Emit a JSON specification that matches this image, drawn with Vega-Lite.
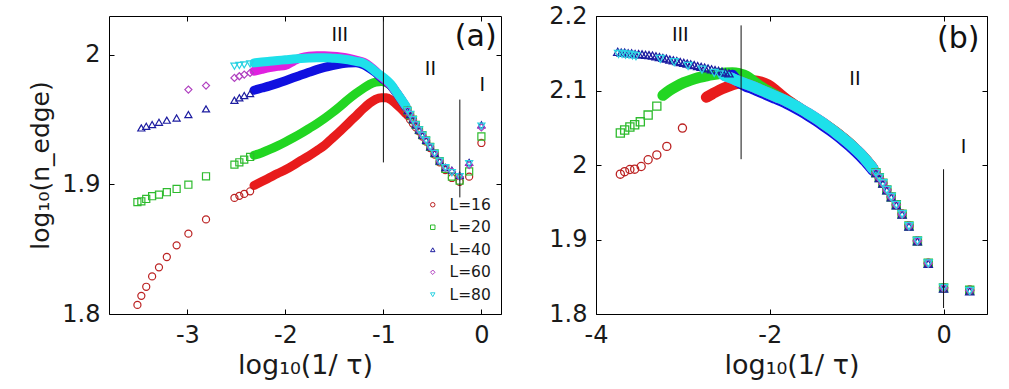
{
"$schema": "https://vega.github.io/schema/vega-lite/v6.json",
"padding": {"left": 28, "top": 3, "right": 5, "bottom": 2},
"spacing": 46,
"config": {
 "font": "DejaVu Sans",
 "view": {"stroke": "#000", "strokeWidth": 1},
 "axis": {"grid": false, "domain": false, "tickColor": "#000", "tickSize": -5, "labelFontSize": 24, "labelColor": "#1a1a1a", "labelFont": "DejaVu Sans", "titleFont": "DejaVu Sans", "titleFontSize": 27, "titleFontWeight": "normal", "titleColor": "#1a1a1a", "labelFlush": false, "labelOverlap": false, "labelPadding": 14, "titlePadding": 5}
},
"datasets": {
"a": [
{"L":16,"x":-3.51,"y":1.807},{"L":16,"x":-3.47,"y":1.814},{"L":16,"x":-3.42,"y":1.821},{"L":16,"x":-3.36,"y":1.829},{"L":16,"x":-3.29,"y":1.836},{"L":16,"x":-3.21,"y":1.844},{"L":16,"x":-3.11,"y":1.853},{"L":16,"x":-2.99,"y":1.862},{"L":16,"x":-2.81,"y":1.873},{"L":16,"x":-2.52,"y":1.8896},{"L":16,"x":-2.47,"y":1.8912},{"L":16,"x":-2.42,"y":1.8927},{"L":16,"x":-2.36,"y":1.8947},
{"L":16,"x":-2.32,"y":1.8992},{"L":16,"x":-2.24,"y":1.9022},{"L":16,"x":-2.16,"y":1.9053},{"L":16,"x":-2.08,"y":1.9084},{"L":16,"x":-2.0,"y":1.9113},{"L":16,"x":-1.92,"y":1.9148},{"L":16,"x":-1.84,"y":1.9185},{"L":16,"x":-1.76,"y":1.922},{"L":16,"x":-1.68,"y":1.926},{"L":16,"x":-1.6,"y":1.9302},{"L":16,"x":-1.52,"y":1.9358},{"L":16,"x":-1.44,"y":1.9412},{"L":16,"x":-1.36,"y":1.9471},{"L":16,"x":-1.28,"y":1.9529},{"L":16,"x":-1.2,"y":1.9588},{"L":16,"x":-1.14,"y":1.9627},{"L":16,"x":-1.08,"y":1.9657},{"L":16,"x":-1.02,"y":1.967},{"L":16,"x":-0.97,"y":1.9669},{"L":16,"x":-0.92,"y":1.9652},{"L":16,"x":-0.87,"y":1.962},{"L":16,"x":-0.82,"y":1.9585},{"L":16,"x":-0.77,"y":1.9545},
{"L":16,"x":-0.753,"y":1.953},{"L":16,"x":-0.727,"y":1.95},{"L":16,"x":-0.699,"y":1.947},{"L":16,"x":-0.669,"y":1.944},{"L":16,"x":-0.637,"y":1.941},{"L":16,"x":-0.602,"y":1.937},{"L":16,"x":-0.564,"y":1.933},{"L":16,"x":-0.523,"y":1.928},{"L":16,"x":-0.477,"y":1.923},{"L":16,"x":-0.426,"y":1.917},{"L":16,"x":-0.368,"y":1.911},{"L":16,"x":-0.301,"y":1.905},{"L":16,"x":-0.222,"y":1.902},{"L":16,"x":-0.125,"y":1.906},{"L":16,"x":0,"y":1.932},
{"L":20,"x":-3.51,"y":1.8863},{"L":20,"x":-3.47,"y":1.887},{"L":20,"x":-3.42,"y":1.8888},{"L":20,"x":-3.36,"y":1.8909},{"L":20,"x":-3.29,"y":1.8921},{"L":20,"x":-3.21,"y":1.894},{"L":20,"x":-3.11,"y":1.8965},{"L":20,"x":-2.99,"y":1.8998},{"L":20,"x":-2.81,"y":1.9063},{"L":20,"x":-2.52,"y":1.9153},{"L":20,"x":-2.47,"y":1.9171},{"L":20,"x":-2.42,"y":1.9191},{"L":20,"x":-2.36,"y":1.9212},
{"L":20,"x":-2.32,"y":1.9225},{"L":20,"x":-2.24,"y":1.9245},{"L":20,"x":-2.16,"y":1.927},{"L":20,"x":-2.08,"y":1.9298},{"L":20,"x":-2.0,"y":1.9328},{"L":20,"x":-1.92,"y":1.936},{"L":20,"x":-1.84,"y":1.9394},{"L":20,"x":-1.76,"y":1.9431},{"L":20,"x":-1.68,"y":1.9469},{"L":20,"x":-1.6,"y":1.951},{"L":20,"x":-1.52,"y":1.9555},{"L":20,"x":-1.44,"y":1.9604},{"L":20,"x":-1.36,"y":1.9655},{"L":20,"x":-1.28,"y":1.9702},{"L":20,"x":-1.2,"y":1.9745},{"L":20,"x":-1.14,"y":1.9772},{"L":20,"x":-1.08,"y":1.9789},{"L":20,"x":-1.02,"y":1.9795},{"L":20,"x":-0.97,"y":1.9785},{"L":20,"x":-0.92,"y":1.976},{"L":20,"x":-0.87,"y":1.971},{"L":20,"x":-0.82,"y":1.9655},{"L":20,"x":-0.77,"y":1.9595},
{"L":20,"x":-0.753,"y":1.957},{"L":20,"x":-0.727,"y":1.9535},{"L":20,"x":-0.699,"y":1.95},{"L":20,"x":-0.669,"y":1.946},{"L":20,"x":-0.637,"y":1.942},{"L":20,"x":-0.602,"y":1.938},{"L":20,"x":-0.564,"y":1.934},{"L":20,"x":-0.523,"y":1.929},{"L":20,"x":-0.477,"y":1.924},{"L":20,"x":-0.426,"y":1.918},{"L":20,"x":-0.368,"y":1.912},{"L":20,"x":-0.301,"y":1.906},{"L":20,"x":-0.222,"y":1.903},{"L":20,"x":-0.125,"y":1.91},{"L":20,"x":0,"y":1.937},
{"L":40,"x":-3.47,"y":1.9436},{"L":40,"x":-3.42,"y":1.9449},{"L":40,"x":-3.36,"y":1.9462},{"L":40,"x":-3.29,"y":1.948},{"L":40,"x":-3.21,"y":1.9496},{"L":40,"x":-3.11,"y":1.9513},{"L":40,"x":-2.99,"y":1.9539},{"L":40,"x":-2.81,"y":1.9583},{"L":40,"x":-2.52,"y":1.965},{"L":40,"x":-2.47,"y":1.9668},{"L":40,"x":-2.42,"y":1.9686},{"L":40,"x":-2.36,"y":1.9701},
{"L":40,"x":-2.32,"y":1.9727},{"L":40,"x":-2.24,"y":1.9744},{"L":40,"x":-2.16,"y":1.9761},{"L":40,"x":-2.08,"y":1.978},{"L":40,"x":-2.0,"y":1.9801},{"L":40,"x":-1.92,"y":1.9823},{"L":40,"x":-1.84,"y":1.9844},{"L":40,"x":-1.76,"y":1.9865},{"L":40,"x":-1.68,"y":1.9886},{"L":40,"x":-1.6,"y":1.9904},{"L":40,"x":-1.52,"y":1.9918},{"L":40,"x":-1.44,"y":1.9929},{"L":40,"x":-1.36,"y":1.9937},{"L":40,"x":-1.28,"y":1.9939},{"L":40,"x":-1.2,"y":1.9922},{"L":40,"x":-1.14,"y":1.9896},{"L":40,"x":-1.08,"y":1.9864},{"L":40,"x":-1.02,"y":1.9822},{"L":40,"x":-0.97,"y":1.9795},{"L":40,"x":-0.92,"y":1.976},{"L":40,"x":-0.87,"y":1.971},{"L":40,"x":-0.82,"y":1.9655},{"L":40,"x":-0.77,"y":1.9595},
{"L":40,"x":-0.753,"y":1.957},{"L":40,"x":-0.727,"y":1.954},{"L":40,"x":-0.699,"y":1.95},{"L":40,"x":-0.669,"y":1.946},{"L":40,"x":-0.637,"y":1.942},{"L":40,"x":-0.602,"y":1.938},{"L":40,"x":-0.564,"y":1.934},{"L":40,"x":-0.523,"y":1.929},{"L":40,"x":-0.477,"y":1.924},{"L":40,"x":-0.426,"y":1.918},{"L":40,"x":-0.368,"y":1.913},{"L":40,"x":-0.301,"y":1.911},{"L":40,"x":-0.222,"y":1.907},{"L":40,"x":-0.125,"y":1.917},{"L":40,"x":0,"y":1.946},
{"L":60,"x":-2.99,"y":1.9732},{"L":60,"x":-2.81,"y":1.9763},{"L":60,"x":-2.52,"y":1.9822},{"L":60,"x":-2.47,"y":1.9835},{"L":60,"x":-2.42,"y":1.9848},{"L":60,"x":-2.36,"y":1.9861},
{"L":60,"x":-2.32,"y":1.9874},{"L":60,"x":-2.24,"y":1.9888},{"L":60,"x":-2.16,"y":1.9901},{"L":60,"x":-2.08,"y":1.9911},{"L":60,"x":-2.0,"y":1.9919},{"L":60,"x":-1.92,"y":1.995},{"L":60,"x":-1.84,"y":1.9978},{"L":60,"x":-1.76,"y":1.999},{"L":60,"x":-1.68,"y":1.9993},{"L":60,"x":-1.6,"y":1.9993},{"L":60,"x":-1.52,"y":1.999},{"L":60,"x":-1.44,"y":1.9984},{"L":60,"x":-1.36,"y":1.9974},{"L":60,"x":-1.28,"y":1.996},{"L":60,"x":-1.2,"y":1.9942},{"L":60,"x":-1.14,"y":1.9914},{"L":60,"x":-1.08,"y":1.9875},{"L":60,"x":-1.02,"y":1.983},{"L":60,"x":-0.97,"y":1.98},{"L":60,"x":-0.92,"y":1.9765},{"L":60,"x":-0.87,"y":1.9715},{"L":60,"x":-0.82,"y":1.966},{"L":60,"x":-0.77,"y":1.96},
{"L":60,"x":-0.753,"y":1.957},{"L":60,"x":-0.727,"y":1.954},{"L":60,"x":-0.699,"y":1.95},{"L":60,"x":-0.669,"y":1.946},{"L":60,"x":-0.637,"y":1.942},{"L":60,"x":-0.602,"y":1.938},{"L":60,"x":-0.564,"y":1.934},{"L":60,"x":-0.523,"y":1.929},{"L":60,"x":-0.477,"y":1.924},{"L":60,"x":-0.426,"y":1.918},{"L":60,"x":-0.368,"y":1.913},{"L":60,"x":-0.301,"y":1.91},{"L":60,"x":-0.222,"y":1.906},{"L":60,"x":-0.125,"y":1.915},{"L":60,"x":0,"y":1.944},
{"L":80,"x":-2.52,"y":1.9913},{"L":80,"x":-2.47,"y":1.9918},{"L":80,"x":-2.42,"y":1.9923},{"L":80,"x":-2.36,"y":1.993},
{"L":80,"x":-2.32,"y":1.9938},{"L":80,"x":-2.24,"y":1.9945},{"L":80,"x":-2.16,"y":1.9951},{"L":80,"x":-2.08,"y":1.9957},{"L":80,"x":-2.0,"y":1.9962},{"L":80,"x":-1.92,"y":1.9968},{"L":80,"x":-1.84,"y":1.9972},{"L":80,"x":-1.76,"y":1.9975},{"L":80,"x":-1.68,"y":1.9977},{"L":80,"x":-1.6,"y":1.9977},{"L":80,"x":-1.52,"y":1.9974},{"L":80,"x":-1.44,"y":1.997},{"L":80,"x":-1.36,"y":1.9962},{"L":80,"x":-1.28,"y":1.995},{"L":80,"x":-1.2,"y":1.9935},{"L":80,"x":-1.14,"y":1.9908},{"L":80,"x":-1.08,"y":1.987},{"L":80,"x":-1.02,"y":1.9838},{"L":80,"x":-0.97,"y":1.9808},{"L":80,"x":-0.92,"y":1.977},{"L":80,"x":-0.87,"y":1.9715},{"L":80,"x":-0.82,"y":1.966},{"L":80,"x":-0.77,"y":1.9605},
{"L":80,"x":-0.753,"y":1.957},{"L":80,"x":-0.727,"y":1.954},{"L":80,"x":-0.699,"y":1.95},{"L":80,"x":-0.669,"y":1.946},{"L":80,"x":-0.637,"y":1.942},{"L":80,"x":-0.602,"y":1.938},{"L":80,"x":-0.564,"y":1.934},{"L":80,"x":-0.523,"y":1.929},{"L":80,"x":-0.477,"y":1.924},{"L":80,"x":-0.426,"y":1.918},{"L":80,"x":-0.368,"y":1.913},{"L":80,"x":-0.301,"y":1.909},{"L":80,"x":-0.222,"y":1.906},{"L":80,"x":-0.125,"y":1.916},{"L":80,"x":0,"y":1.945}
],
"b": [
{"L":16,"x":-3.72,"y":1.9877},{"L":16,"x":-3.67,"y":1.991},{"L":16,"x":-3.61,"y":1.994},{"L":16,"x":-3.555,"y":1.9944},{"L":16,"x":-3.48,"y":1.998},{"L":16,"x":-3.4,"y":2.007},{"L":16,"x":-3.3,"y":2.0135},{"L":16,"x":-3.185,"y":2.025},{"L":16,"x":-3.005,"y":2.0496},
{"L":16,"x":-2.73,"y":2.091},{"L":16,"x":-2.66,"y":2.0955},{"L":16,"x":-2.58,"y":2.1005},{"L":16,"x":-2.5,"y":2.1045},{"L":16,"x":-2.42,"y":2.108},{"L":16,"x":-2.34,"y":2.1105},{"L":16,"x":-2.26,"y":2.1125},{"L":16,"x":-2.18,"y":2.1132},{"L":16,"x":-2.1,"y":2.1115},{"L":16,"x":-2.02,"y":2.1075},{"L":16,"x":-1.94,"y":2.101},{"L":16,"x":-1.86,"y":2.093},{"L":16,"x":-1.8,"y":2.0875},{"L":16,"x":-1.72,"y":2.081},{"L":16,"x":-1.64,"y":2.0745},{"L":16,"x":-1.56,"y":2.069},{"L":16,"x":-1.48,"y":2.0632},{"L":16,"x":-1.4,"y":2.0572},{"L":16,"x":-1.32,"y":2.0508},{"L":16,"x":-1.24,"y":2.044},{"L":16,"x":-1.16,"y":2.0366},{"L":16,"x":-1.08,"y":2.0288},{"L":16,"x":-1.0,"y":2.02},{"L":16,"x":-0.93,"y":2.0118},
{"L":16,"x":-0.903,"y":2.0082},{"L":16,"x":-0.875,"y":2.0045},{"L":16,"x":-0.845,"y":2.0003},{"L":16,"x":-0.813,"y":1.9955},{"L":16,"x":-0.778,"y":1.9898},{"L":16,"x":-0.74,"y":1.9833},{"L":16,"x":-0.699,"y":1.9757},{"L":16,"x":-0.653,"y":1.9667},{"L":16,"x":-0.602,"y":1.9572},{"L":16,"x":-0.544,"y":1.9467},{"L":16,"x":-0.477,"y":1.9342},{"L":16,"x":-0.398,"y":1.9182},{"L":16,"x":-0.301,"y":1.8982},{"L":16,"x":-0.176,"y":1.8682},{"L":16,"x":0,"y":1.8352},{"L":16,"x":0.301,"y":1.8322},
{"L":20,"x":-3.72,"y":2.043},{"L":20,"x":-3.67,"y":2.047},{"L":20,"x":-3.61,"y":2.051},{"L":20,"x":-3.555,"y":2.054},{"L":20,"x":-3.49,"y":2.058},{"L":20,"x":-3.4,"y":2.067},{"L":20,"x":-3.3,"y":2.079},
{"L":20,"x":-3.23,"y":2.0935},{"L":20,"x":-3.15,"y":2.1005},{"L":20,"x":-3.07,"y":2.106},{"L":20,"x":-2.99,"y":2.1105},{"L":20,"x":-2.91,"y":2.114},{"L":20,"x":-2.83,"y":2.117},{"L":20,"x":-2.75,"y":2.119},{"L":20,"x":-2.67,"y":2.121},{"L":20,"x":-2.59,"y":2.1225},{"L":20,"x":-2.51,"y":2.1235},{"L":20,"x":-2.43,"y":2.1237},{"L":20,"x":-2.35,"y":2.1225},{"L":20,"x":-2.27,"y":2.1195},{"L":20,"x":-2.19,"y":2.1125},{"L":20,"x":-2.11,"y":2.1055},{"L":20,"x":-2.03,"y":2.1},{"L":20,"x":-1.95,"y":2.0945},{"L":20,"x":-1.87,"y":2.0895},{"L":20,"x":-1.79,"y":2.085},{"L":20,"x":-1.72,"y":2.0805},{"L":20,"x":-1.64,"y":2.0745},{"L":20,"x":-1.56,"y":2.0688},{"L":20,"x":-1.48,"y":2.063},{"L":20,"x":-1.4,"y":2.057},{"L":20,"x":-1.32,"y":2.0506},{"L":20,"x":-1.24,"y":2.0438},{"L":20,"x":-1.16,"y":2.0364},{"L":20,"x":-1.08,"y":2.0286},{"L":20,"x":-1.0,"y":2.0198},{"L":20,"x":-0.93,"y":2.0117},
{"L":20,"x":-0.903,"y":2.0081},{"L":20,"x":-0.875,"y":2.0043},{"L":20,"x":-0.845,"y":2.0001},{"L":20,"x":-0.813,"y":1.9953},{"L":20,"x":-0.778,"y":1.9896},{"L":20,"x":-0.74,"y":1.9831},{"L":20,"x":-0.699,"y":1.9756},{"L":20,"x":-0.653,"y":1.9666},{"L":20,"x":-0.602,"y":1.9571},{"L":20,"x":-0.544,"y":1.9466},{"L":20,"x":-0.477,"y":1.9341},{"L":20,"x":-0.398,"y":1.9181},{"L":20,"x":-0.301,"y":1.8981},{"L":20,"x":-0.176,"y":1.8681},{"L":20,"x":0,"y":1.8351},{"L":20,"x":0.301,"y":1.8318},
{"L":40,"x":-3.75,"y":2.152},{"L":40,"x":-3.71,"y":2.151},{"L":40,"x":-3.67,"y":2.151},{"L":40,"x":-3.63,"y":2.15},{"L":40,"x":-3.59,"y":2.15},{"L":40,"x":-3.55,"y":2.149},{"L":40,"x":-3.51,"y":2.149},{"L":40,"x":-3.47,"y":2.1485},{"L":40,"x":-3.43,"y":2.148},{"L":40,"x":-3.39,"y":2.1475},{"L":40,"x":-3.35,"y":2.147},{"L":40,"x":-3.31,"y":2.1459},{"L":40,"x":-3.27,"y":2.1448},{"L":40,"x":-3.23,"y":2.1437},{"L":40,"x":-3.19,"y":2.1427},{"L":40,"x":-3.15,"y":2.1416},{"L":40,"x":-3.11,"y":2.1405},{"L":40,"x":-3.07,"y":2.1394},{"L":40,"x":-3.03,"y":2.1383},{"L":40,"x":-2.99,"y":2.1372},{"L":40,"x":-2.95,"y":2.1361},{"L":40,"x":-2.91,"y":2.135},{"L":40,"x":-2.87,"y":2.134},{"L":40,"x":-2.83,"y":2.1329},{"L":40,"x":-2.79,"y":2.1318},{"L":40,"x":-2.75,"y":2.1307},{"L":40,"x":-2.71,"y":2.1296},{"L":40,"x":-2.67,"y":2.1285},{"L":40,"x":-2.63,"y":2.1274},{"L":40,"x":-2.59,"y":2.1263},{"L":40,"x":-2.55,"y":2.1253},{"L":40,"x":-2.51,"y":2.1242},{"L":40,"x":-2.47,"y":2.1231},
{"L":40,"x":-2.43,"y":2.1205},{"L":40,"x":-2.36,"y":2.1115},{"L":40,"x":-2.28,"y":2.106},{"L":40,"x":-2.2,"y":2.1025},{"L":40,"x":-2.12,"y":2.0985},{"L":40,"x":-2.04,"y":2.0945},{"L":40,"x":-1.96,"y":2.0905},{"L":40,"x":-1.88,"y":2.0865},{"L":40,"x":-1.8,"y":2.0822},{"L":40,"x":-1.72,"y":2.0773},{"L":40,"x":-1.64,"y":2.072},{"L":40,"x":-1.56,"y":2.0664},{"L":40,"x":-1.48,"y":2.0605},{"L":40,"x":-1.4,"y":2.0542},{"L":40,"x":-1.32,"y":2.0475},{"L":40,"x":-1.24,"y":2.0406},{"L":40,"x":-1.16,"y":2.0332},{"L":40,"x":-1.08,"y":2.0254},{"L":40,"x":-1.0,"y":2.0167},{"L":40,"x":-0.93,"y":2.0086},
{"L":40,"x":-0.903,"y":2.0052},{"L":40,"x":-0.875,"y":2.0015},{"L":40,"x":-0.845,"y":1.9975},{"L":40,"x":-0.813,"y":1.993},{"L":40,"x":-0.778,"y":1.989},{"L":40,"x":-0.74,"y":1.9825},{"L":40,"x":-0.699,"y":1.975},{"L":40,"x":-0.653,"y":1.966},{"L":40,"x":-0.602,"y":1.9565},{"L":40,"x":-0.544,"y":1.946},{"L":40,"x":-0.477,"y":1.9335},{"L":40,"x":-0.398,"y":1.9175},{"L":40,"x":-0.301,"y":1.8975},{"L":40,"x":-0.176,"y":1.8675},{"L":40,"x":0,"y":1.834},{"L":40,"x":0.301,"y":1.8305},
{"L":60,"x":-2.52,"y":2.12},{"L":60,"x":-2.44,"y":2.1165},{"L":60,"x":-2.36,"y":2.1125},{"L":60,"x":-2.28,"y":2.109},{"L":60,"x":-2.2,"y":2.1055},{"L":60,"x":-2.12,"y":2.1015},{"L":60,"x":-2.04,"y":2.0975},{"L":60,"x":-1.96,"y":2.0935},{"L":60,"x":-1.88,"y":2.0895},{"L":60,"x":-1.8,"y":2.0852},{"L":60,"x":-1.72,"y":2.0803},{"L":60,"x":-1.64,"y":2.075},{"L":60,"x":-1.56,"y":2.0694},{"L":60,"x":-1.48,"y":2.0635},{"L":60,"x":-1.4,"y":2.0572},{"L":60,"x":-1.32,"y":2.0505},{"L":60,"x":-1.24,"y":2.0436},{"L":60,"x":-1.16,"y":2.0362},{"L":60,"x":-1.08,"y":2.0284},{"L":60,"x":-1.0,"y":2.0197},{"L":60,"x":-0.93,"y":2.0116},
{"L":60,"x":-0.903,"y":2.008},{"L":60,"x":-0.875,"y":2.0042},{"L":60,"x":-0.845,"y":2.0},{"L":60,"x":-0.813,"y":1.9952},{"L":60,"x":-0.778,"y":1.9895},{"L":60,"x":-0.74,"y":1.983},{"L":60,"x":-0.699,"y":1.9755},{"L":60,"x":-0.653,"y":1.9665},{"L":60,"x":-0.602,"y":1.957},{"L":60,"x":-0.544,"y":1.9465},{"L":60,"x":-0.477,"y":1.934},{"L":60,"x":-0.398,"y":1.918},{"L":60,"x":-0.301,"y":1.898},{"L":60,"x":-0.176,"y":1.868},{"L":60,"x":0,"y":1.835},{"L":60,"x":0.301,"y":1.8315},
{"L":80,"x":-3.74,"y":2.149},{"L":80,"x":-3.7,"y":2.149},{"L":80,"x":-3.66,"y":2.148},{"L":80,"x":-3.62,"y":2.148},{"L":80,"x":-3.58,"y":2.147},{"L":80,"x":-3.54,"y":2.146},{"L":80,"x":-3.26,"y":2.1425},{"L":80,"x":-3.1,"y":2.138},{"L":80,"x":-2.94,"y":2.133},{"L":80,"x":-2.78,"y":2.128},{"L":80,"x":-2.64,"y":2.1235},{"L":80,"x":-2.58,"y":2.1215},
{"L":80,"x":-2.52,"y":2.12},{"L":80,"x":-2.44,"y":2.1165},{"L":80,"x":-2.36,"y":2.1125},{"L":80,"x":-2.28,"y":2.109},{"L":80,"x":-2.2,"y":2.1055},{"L":80,"x":-2.12,"y":2.1015},{"L":80,"x":-2.04,"y":2.0975},{"L":80,"x":-1.96,"y":2.0935},{"L":80,"x":-1.88,"y":2.0895},{"L":80,"x":-1.8,"y":2.0852},{"L":80,"x":-1.72,"y":2.0803},{"L":80,"x":-1.64,"y":2.075},{"L":80,"x":-1.56,"y":2.0694},{"L":80,"x":-1.48,"y":2.0635},{"L":80,"x":-1.4,"y":2.0572},{"L":80,"x":-1.32,"y":2.0505},{"L":80,"x":-1.24,"y":2.0436},{"L":80,"x":-1.16,"y":2.0362},{"L":80,"x":-1.08,"y":2.0284},{"L":80,"x":-1.0,"y":2.0197},{"L":80,"x":-0.93,"y":2.0116},
{"L":80,"x":-0.903,"y":2.008},{"L":80,"x":-0.875,"y":2.0042},{"L":80,"x":-0.845,"y":2.0},{"L":80,"x":-0.813,"y":1.9952},{"L":80,"x":-0.778,"y":1.9895},{"L":80,"x":-0.74,"y":1.983},{"L":80,"x":-0.699,"y":1.9755},{"L":80,"x":-0.653,"y":1.9665},{"L":80,"x":-0.602,"y":1.957},{"L":80,"x":-0.544,"y":1.9465},{"L":80,"x":-0.477,"y":1.934},{"L":80,"x":-0.398,"y":1.918},{"L":80,"x":-0.301,"y":1.898},{"L":80,"x":-0.176,"y":1.868},{"L":80,"x":0,"y":1.835},{"L":80,"x":0.301,"y":1.831}
]
},
"resolve": {"scale": {"color": "independent", "shape": "independent", "stroke": "independent"}, "legend": {"color": "independent", "shape": "independent", "stroke": "independent"}},
"hconcat": [
{
 "width": 392, "height": 298,
 "data": {"name": "a"},
 "resolve": {"axis": {"x": "independent", "y": "independent"}},
 "layer": [
  {
   "transform": [{"filter": "datum.x >= -2.325 && datum.x <= -0.765"}],
   "mark": {"type": "line", "strokeWidth": 9, "strokeCap": "round", "strokeJoin": "round", "interpolate": "monotone"},
   "encoding": {
    "x": {"field": "x", "type": "quantitative", "axis": null},
    "y": {"field": "y", "type": "quantitative", "axis": null},
    "stroke": {"field": "L", "type": "nominal", "scale": {"range": ["#e81c1c", "#22d622", "#1010e0", "#e020e0", "#1ee0ea"]}, "legend": null}
   }
  },
  {
   "transform": [{"filter": "!(datum.x >= -2.325 && datum.x <= -0.765)"}],
   "mark": {"type": "point", "filled": false, "strokeWidth": 1.2, "size": 50, "opacity": 1},
   "encoding": {
    "x": {"field": "x", "type": "quantitative", "scale": {"domain": [-3.8, 0.2], "nice": false, "zero": false}, "axis": {"orient": "bottom", "values": [-3, -2, -1, 0], "format": "~g", "labelExpr": "replace(datum.label, '−', '-')", "title": "log₁₀(1/ τ)"}},
    "y": {"field": "y", "type": "quantitative", "scale": {"domain": [1.8, 2.03], "nice": false, "zero": false}, "axis": {"orient": "left", "values": [1.8, 1.9, 2], "format": "~g", "title": "log₁₀(n_edge)", "titlePadding": 8, "titleFontSize": 25}},
    "color": {"field": "L", "type": "nominal", "scale": {"domain": [16, 20, 40, 60, 80], "range": ["#bb2222", "#2ebb2e", "#1c1ca0", "#b040c0", "#2ad2e2"]}, "legend": {"orient": "bottom-right", "title": null, "labelExpr": "'L=' + datum.label", "labelFontSize": 15.5, "labelFont": "DejaVu Sans", "labelColor": "#1a1a1a", "symbolSize": 20, "symbolStrokeWidth": 1, "rowPadding": 5.5, "labelOffset": 9, "offset": 10, "padding": 0}},
    "shape": {"field": "L", "type": "nominal", "scale": {"domain": [16, 20, 40, 60, 80], "range": ["circle", "square", "triangle-up", "diamond", "triangle-down"]}, "legend": {"orient": "bottom-right", "title": null, "labelExpr": "'L=' + datum.label", "labelFontSize": 15.5, "labelFont": "DejaVu Sans", "labelColor": "#1a1a1a", "symbolSize": 20, "symbolStrokeWidth": 1, "rowPadding": 5.5, "labelOffset": 9, "offset": 10, "padding": 0}}
   }
  },
  {
   "data": {"values": [{"x": -1.0, "y": 2.03, "y2": 1.917}, {"x": -0.22, "y": 1.9655, "y2": 1.89}]},
   "mark": {"type": "rule", "color": "#111", "strokeWidth": 1},
   "encoding": {
    "x": {"field": "x", "type": "quantitative", "axis": {"orient": "top", "values": [-3, -2, -1, 0], "labels": false, "title": null}},
    "y": {"field": "y", "type": "quantitative", "axis": {"orient": "right", "values": [1.8, 1.9, 2], "labels": false, "title": null}},
    "y2": {"field": "y2"}
   }
  },
  {
   "data": {"values": [{"x": -1.445, "y": 2.0155, "t": "III"}, {"x": -0.52, "y": 1.989, "t": "II"}, {"x": 0.01, "y": 1.977, "t": "I"}]},
   "mark": {"type": "text", "fontSize": 19, "font": "DejaVu Sans", "color": "#111"},
   "encoding": {
    "x": {"field": "x", "type": "quantitative", "axis": null},
    "y": {"field": "y", "type": "quantitative", "axis": null},
    "text": {"field": "t"}
   }
  },
  {
   "data": {"values": [{"x": 0.155, "y": 2.0139, "t": "(a)"}]},
   "mark": {"type": "text", "fontSize": 30, "font": "DejaVu Sans", "color": "#111", "align": "right"},
   "encoding": {
    "x": {"field": "x", "type": "quantitative", "axis": null},
    "y": {"field": "y", "type": "quantitative", "axis": null},
    "text": {"field": "t"}
   }
  }
 ]
},
{
 "width": 391, "height": 298,
 "data": {"name": "b"},
 "resolve": {"axis": {"x": "independent", "y": "independent"}},
 "layer": [
  {
   "transform": [{"filter": "datum.x <= -0.79 && datum.x >= (datum.L == 16 ? -2.735 : datum.L == 20 ? -3.235 : datum.L == 40 ? -2.435 : -2.525)"}],
   "mark": {"type": "line", "strokeWidth": 11, "strokeCap": "round", "strokeJoin": "round", "interpolate": "monotone"},
   "encoding": {
    "x": {"field": "x", "type": "quantitative", "axis": null},
    "y": {"field": "y", "type": "quantitative", "axis": null},
    "stroke": {"field": "L", "type": "nominal", "scale": {"range": ["#e81c1c", "#22d622", "#1010e0", "#e020e0", "#1ee0ea"]}, "legend": null}
   }
  },
  {
   "transform": [{"filter": "!(datum.x <= -0.79 && datum.x >= (datum.L == 16 ? -2.735 : datum.L == 20 ? -3.235 : datum.L == 40 ? -2.435 : -2.525))"}],
   "mark": {"type": "point", "filled": false, "strokeWidth": 1.3, "size": 66, "opacity": 1},
   "encoding": {
    "x": {"field": "x", "type": "quantitative", "scale": {"domain": [-4, 0.5], "nice": false, "zero": false}, "axis": {"orient": "bottom", "values": [-4, -2, 0], "format": "~g", "labelExpr": "replace(datum.label, '−', '-')", "title": "log₁₀(1/ τ)"}},
    "y": {"field": "y", "type": "quantitative", "scale": {"domain": [1.8, 2.2], "nice": false, "zero": false}, "axis": {"orient": "left", "values": [1.8, 1.9, 2, 2.1, 2.2], "format": "~g", "title": null}},
    "color": {"field": "L", "type": "nominal", "scale": {"domain": [16, 20, 40, 60, 80], "range": ["#bb2222", "#2ebb2e", "#1c1ca0", "#b040c0", "#2ad2e2"]}, "legend": null},
    "shape": {"field": "L", "type": "nominal", "scale": {"domain": [16, 20, 40, 60, 80], "range": ["circle", "square", "triangle-up", "diamond", "triangle-down"]}, "legend": null}
   }
  },
  {
   "data": {"values": [{"x": -2.33, "y": 2.1874, "y2": 2.0078}, {"x": 0.0, "y": 1.9943, "y2": 1.808}]},
   "mark": {"type": "rule", "color": "#111", "strokeWidth": 1},
   "encoding": {
    "x": {"field": "x", "type": "quantitative", "axis": {"orient": "top", "values": [-4, -2, 0], "labels": false, "title": null}},
    "y": {"field": "y", "type": "quantitative", "axis": {"orient": "right", "values": [1.8, 1.9, 2, 2.1, 2.2], "labels": false, "title": null}},
    "y2": {"field": "y2"}
   }
  },
  {
   "data": {"values": [{"x": -3.03, "y": 2.174, "t": "III"}, {"x": -1.02, "y": 2.116, "t": "II"}, {"x": 0.23, "y": 2.0236, "t": "I"}]},
   "mark": {"type": "text", "fontSize": 19, "font": "DejaVu Sans", "color": "#111"},
   "encoding": {
    "x": {"field": "x", "type": "quantitative", "axis": null},
    "y": {"field": "y", "type": "quantitative", "axis": null},
    "text": {"field": "t"}
   }
  },
  {
   "data": {"values": [{"x": 0.414, "y": 2.1697, "t": "(b)"}]},
   "mark": {"type": "text", "fontSize": 30, "font": "DejaVu Sans", "color": "#111", "align": "right"},
   "encoding": {
    "x": {"field": "x", "type": "quantitative", "axis": null},
    "y": {"field": "y", "type": "quantitative", "axis": null},
    "text": {"field": "t"}
   }
  }
 ]
}
]
}
